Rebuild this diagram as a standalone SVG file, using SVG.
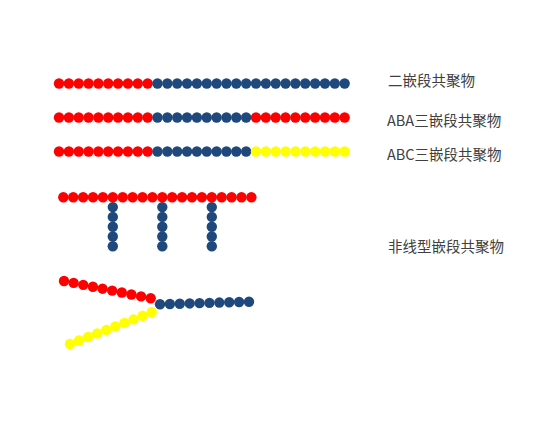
<svg xmlns="http://www.w3.org/2000/svg" xmlns:xlink="http://www.w3.org/1999/xlink" width="546" height="443" viewBox="0 0 546 443">
<style>
.lbl{font-family:"Noto Sans CJK SC","Liberation Sans",sans-serif;font-size:14.5px;fill:#404040}
</style>
<defs>
<circle id="R" r="5.2" fill="#FF0000"/>
<circle id="B" r="5.2" fill="#1F497D"/>
<circle id="Y" r="5.2" fill="#FFFF00"/>
</defs>
<rect width="546" height="443" fill="#FFFFFF"/>
<g id="connectors"/>
<g id="diblock">
<use href="#R" x="59" y="83.5"/><use href="#R" x="68.85" y="83.5"/><use href="#R" x="78.7" y="83.5"/><use href="#R" x="88.55" y="83.5"/><use href="#R" x="98.4" y="83.5"/><use href="#R" x="108.25" y="83.5"/><use href="#R" x="118.1" y="83.5"/><use href="#R" x="127.95" y="83.5"/><use href="#R" x="137.8" y="83.5"/><use href="#R" x="147.65" y="83.5"/>
<use href="#B" x="157.5" y="83.5"/><use href="#B" x="167.35" y="83.5"/><use href="#B" x="177.2" y="83.5"/><use href="#B" x="187.05" y="83.5"/><use href="#B" x="196.9" y="83.5"/><use href="#B" x="206.75" y="83.5"/><use href="#B" x="216.6" y="83.5"/><use href="#B" x="226.45" y="83.5"/><use href="#B" x="236.3" y="83.5"/><use href="#B" x="246.15" y="83.5"/>
<use href="#B" x="256" y="83.5"/><use href="#B" x="265.85" y="83.5"/><use href="#B" x="275.7" y="83.5"/><use href="#B" x="285.55" y="83.5"/><use href="#B" x="295.4" y="83.5"/><use href="#B" x="305.25" y="83.5"/><use href="#B" x="315.1" y="83.5"/><use href="#B" x="324.95" y="83.5"/><use href="#B" x="334.8" y="83.5"/><use href="#B" x="344.65" y="83.5"/>
</g>
<g id="aba">
<use href="#R" x="59" y="117.5"/><use href="#R" x="68.85" y="117.5"/><use href="#R" x="78.7" y="117.5"/><use href="#R" x="88.55" y="117.5"/><use href="#R" x="98.4" y="117.5"/><use href="#R" x="108.25" y="117.5"/><use href="#R" x="118.1" y="117.5"/><use href="#R" x="127.95" y="117.5"/><use href="#R" x="137.8" y="117.5"/><use href="#R" x="147.65" y="117.5"/>
<use href="#B" x="157.5" y="117.5"/><use href="#B" x="167.35" y="117.5"/><use href="#B" x="177.2" y="117.5"/><use href="#B" x="187.05" y="117.5"/><use href="#B" x="196.9" y="117.5"/><use href="#B" x="206.75" y="117.5"/><use href="#B" x="216.6" y="117.5"/><use href="#B" x="226.45" y="117.5"/><use href="#B" x="236.3" y="117.5"/><use href="#B" x="246.15" y="117.5"/>
<use href="#R" x="256" y="117.5"/><use href="#R" x="265.85" y="117.5"/><use href="#R" x="275.7" y="117.5"/><use href="#R" x="285.55" y="117.5"/><use href="#R" x="295.4" y="117.5"/><use href="#R" x="305.25" y="117.5"/><use href="#R" x="315.1" y="117.5"/><use href="#R" x="324.95" y="117.5"/><use href="#R" x="334.8" y="117.5"/><use href="#R" x="344.65" y="117.5"/>
</g>
<g id="abc">
<use href="#R" x="59" y="151.5"/><use href="#R" x="68.85" y="151.5"/><use href="#R" x="78.7" y="151.5"/><use href="#R" x="88.55" y="151.5"/><use href="#R" x="98.4" y="151.5"/><use href="#R" x="108.25" y="151.5"/><use href="#R" x="118.1" y="151.5"/><use href="#R" x="127.95" y="151.5"/><use href="#R" x="137.8" y="151.5"/><use href="#R" x="147.65" y="151.5"/>
<use href="#B" x="157.5" y="151.5"/><use href="#B" x="167.35" y="151.5"/><use href="#B" x="177.2" y="151.5"/><use href="#B" x="187.05" y="151.5"/><use href="#B" x="196.9" y="151.5"/><use href="#B" x="206.75" y="151.5"/><use href="#B" x="216.6" y="151.5"/><use href="#B" x="226.45" y="151.5"/><use href="#B" x="236.3" y="151.5"/><use href="#B" x="246.15" y="151.5"/>
<use href="#Y" x="256" y="151.5"/><use href="#Y" x="265.85" y="151.5"/><use href="#Y" x="275.7" y="151.5"/><use href="#Y" x="285.55" y="151.5"/><use href="#Y" x="295.4" y="151.5"/><use href="#Y" x="305.25" y="151.5"/><use href="#Y" x="315.1" y="151.5"/><use href="#Y" x="324.95" y="151.5"/><use href="#Y" x="334.8" y="151.5"/><use href="#Y" x="344.65" y="151.5"/>
</g>
<g id="comb">
<use href="#B" x="112.8" y="207.1"/><use href="#B" x="112.8" y="216.9"/><use href="#B" x="112.8" y="226.7"/><use href="#B" x="112.8" y="236.5"/><use href="#B" x="112.8" y="246.3"/>
<use href="#B" x="162.3" y="207.1"/><use href="#B" x="162.3" y="216.9"/><use href="#B" x="162.3" y="226.7"/><use href="#B" x="162.3" y="236.5"/><use href="#B" x="162.3" y="246.3"/>
<use href="#B" x="211.8" y="207.1"/><use href="#B" x="211.8" y="216.9"/><use href="#B" x="211.8" y="226.7"/><use href="#B" x="211.8" y="236.5"/><use href="#B" x="211.8" y="246.3"/>
<use href="#R" x="63.3" y="197.3"/><use href="#R" x="73.2" y="197.3"/><use href="#R" x="83.1" y="197.3"/><use href="#R" x="93" y="197.3"/><use href="#R" x="102.9" y="197.3"/><use href="#R" x="112.8" y="197.3"/><use href="#R" x="122.7" y="197.3"/><use href="#R" x="132.6" y="197.3"/><use href="#R" x="142.5" y="197.3"/><use href="#R" x="152.4" y="197.3"/>
<use href="#R" x="162.3" y="197.3"/><use href="#R" x="172.2" y="197.3"/><use href="#R" x="182.1" y="197.3"/><use href="#R" x="192" y="197.3"/><use href="#R" x="201.9" y="197.3"/><use href="#R" x="211.8" y="197.3"/><use href="#R" x="221.7" y="197.3"/><use href="#R" x="231.6" y="197.3"/><use href="#R" x="241.5" y="197.3"/><use href="#R" x="251.4" y="197.3"/>
</g>
<g id="star">
<use href="#R" x="64" y="281"/><use href="#R" x="73.63" y="282.92"/><use href="#R" x="83.27" y="284.84"/><use href="#R" x="92.9" y="286.77"/><use href="#R" x="102.53" y="288.69"/><use href="#R" x="112.17" y="290.61"/><use href="#R" x="121.8" y="292.53"/><use href="#R" x="131.43" y="294.46"/><use href="#R" x="141.07" y="296.38"/><use href="#R" x="150.7" y="298.3"/>
<use href="#Y" x="70" y="344"/><use href="#Y" x="79.08" y="340.48"/><use href="#Y" x="88.16" y="336.96"/><use href="#Y" x="97.23" y="333.43"/><use href="#Y" x="106.31" y="329.91"/><use href="#Y" x="115.39" y="326.39"/><use href="#Y" x="124.47" y="322.87"/><use href="#Y" x="133.54" y="319.34"/><use href="#Y" x="142.62" y="315.82"/><use href="#Y" x="151.7" y="312.3"/>
<use href="#B" x="160" y="304.3"/><use href="#B" x="169.89" y="304.01"/><use href="#B" x="179.78" y="303.72"/><use href="#B" x="189.67" y="303.43"/><use href="#B" x="199.56" y="303.14"/><use href="#B" x="209.44" y="302.86"/><use href="#B" x="219.33" y="302.57"/><use href="#B" x="229.22" y="302.28"/><use href="#B" x="239.11" y="301.99"/><use href="#B" x="249" y="301.7"/>
</g>
<g id="label-diblock"><text class="lbl" x="388" y="86">二嵌段共聚物</text></g>
<g id="label-aba"><text class="lbl" x="387" y="126">ABA三嵌段共聚物</text></g>
<g id="label-abc"><text class="lbl" x="387" y="160">ABC三嵌段共聚物</text></g>
<g id="label-nonlinear"><text class="lbl" x="388" y="252">非线型嵌段共聚物</text></g>
</svg>
